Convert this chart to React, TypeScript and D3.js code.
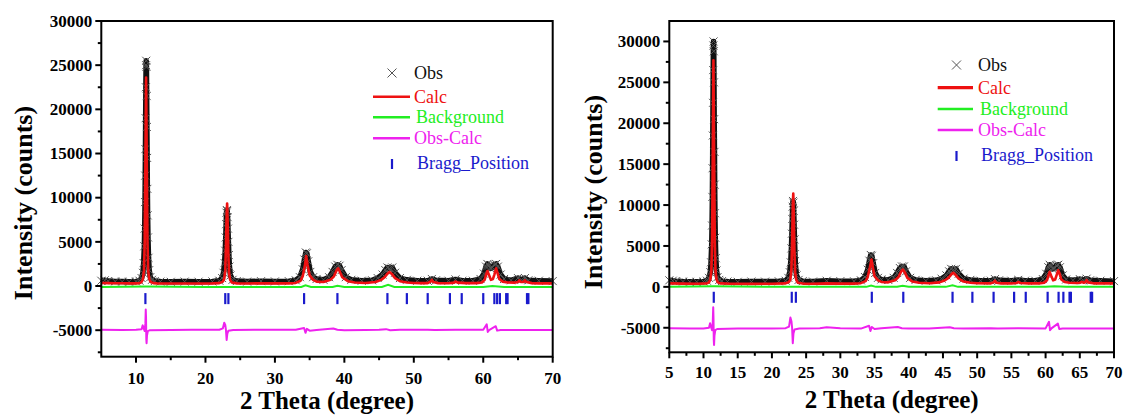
import React from 'react';
import * as d3 from 'd3';

type P = [number, number];

// ---------- Left panel data ----------
const obsL: P[] = [
  [5, 600], [5.5, 650], [6, 560], [7, 520], [8, 500], [9, 490], [10, 520], [10.5, 600], [10.8, 900], [11.0, 1500],
  [11.1, 2600], [11.2, 4500], [11.25, 6500], [11.3, 9500], [11.33, 12500], [11.36, 15500], [11.39, 19000], [11.42, 22500],
  [11.45, 25000], [11.47, 25500], [11.5, 24800], [11.53, 21500], [11.56, 18000], [11.6, 14500], [11.63, 11000], [11.67, 8000],
  [11.72, 5500], [11.8, 3200], [11.9, 1800], [12.05, 1000], [12.3, 700], [12.7, 560], [13.5, 500], [15, 480], [17, 500],
  [19, 490], [21, 520], [22, 600], [22.4, 900], [22.6, 1500], [22.75, 2600], [22.85, 4000], [22.92, 5500], [22.98, 7000],
  [23.03, 8300], [23.08, 8600], [23.13, 8500], [23.18, 7800], [23.24, 6500], [23.3, 5000], [23.37, 3500], [23.45, 2200],
  [23.6, 1200], [23.9, 700], [24.5, 560], [26, 500], [28, 550], [30, 520], [32, 550], [33, 650], [33.6, 1000], [34.0, 1900],
  [34.25, 3000], [34.45, 3800], [34.6, 3700], [34.8, 2800], [35.1, 1600], [35.5, 1000], [36, 800], [37, 700], [37.8, 1000],
  [38.3, 1600], [38.7, 2200], [39.0, 2400], [39.3, 2300], [39.6, 1800], [40.2, 1000], [41, 700], [42.5, 600], [44, 650],
  [44.8, 900], [45.5, 1300], [45.9, 1800], [46.2, 2100], [46.5, 2000], [46.9, 2100], [47.3, 1500], [48, 900], [49, 700],
  [50.5, 600], [52, 600], [52.6, 800], [53.2, 650], [55, 600], [56, 750], [57, 600], [58.5, 600], [59.6, 800], [60.1, 1400],
  [60.4, 2200], [60.6, 2500], [60.8, 2300], [61.0, 2000], [61.3, 2100], [61.6, 2400], [61.85, 2500], [62.1, 2200],
  [62.5, 1300], [63, 800], [64, 650], [65, 900], [65.5, 700], [66, 900], [66.5, 650], [68, 600], [70, 560],
];

const calcL: P[] = [
  [5, 350], [6, 330], [7, 320], [8, 310], [9, 300], [10, 300], [10.5, 320], [10.8, 450], [11.0, 800], [11.15, 1800],
  [11.25, 5000], [11.35, 14000], [11.45, 23600], [11.55, 14000], [11.65, 5000], [11.75, 1800], [11.9, 800], [12.1, 450],
  [12.5, 330], [13, 300], [15, 290], [17, 290], [19, 290], [21, 300], [22, 330], [22.5, 500], [22.7, 800], [22.85, 1800],
  [22.95, 4500], [23.05, 8000], [23.12, 9350], [23.2, 7000], [23.3, 3500], [23.4, 1500], [23.55, 700], [23.8, 400],
  [24.5, 300], [26, 290], [28, 300], [30, 300], [32, 300], [33, 350], [33.7, 600], [34.0, 1100], [34.3, 2200], [34.5, 3400],
  [34.7, 2400], [35.0, 1200], [35.5, 700], [36, 500], [37, 450], [38, 700], [38.5, 1100], [38.9, 1800], [39.1, 2000],
  [39.3, 1700], [39.7, 1000], [40.5, 550], [41.5, 400], [43, 350], [44.5, 450], [45.3, 700], [45.8, 1000], [46.2, 1400],
  [46.5, 1600], [46.8, 1400], [47.3, 900], [48, 550], [49, 400], [50, 350], [51, 330], [52, 330], [52.4, 500], [52.6, 700],
  [52.8, 450], [53.5, 330], [55, 320], [55.8, 380], [56, 500], [56.3, 380], [57.5, 330], [59, 330], [59.8, 400], [60.2, 700],
  [60.45, 1400], [60.6, 1700], [60.8, 1300], [61.1, 700], [61.4, 800], [61.6, 1300], [61.85, 2000], [62.05, 1500],
  [62.3, 800], [62.8, 500], [63.5, 400], [64.5, 380], [65.0, 450], [65.2, 650], [65.4, 450], [65.8, 450], [66.0, 650],
  [66.2, 450], [67, 330], [68, 300], [70, 300],
];

const bgL: P[] = [
  [5, -100], [11.45, -50], [20, -100], [33.8, -100], [34.4, 80], [35.2, -100], [38.3, -100], [39, 40], [40, -100],
  [45.4, -100], [46.3, 150], [47.2, -100], [60, -100], [61.3, 0], [63, -100], [70, -100],
];

const diffL: P[] = [
  [5, -4950], [8, -4980], [10, -4960], [10.8, -4900], [10.96, -4450], [11.1, -4800], [11.25, -5100], [11.35, -4200],
  [11.4, -2650], [11.44, -3500], [11.48, -6000], [11.52, -6480], [11.58, -5600], [11.7, -5100], [12, -5000], [15, -4980],
  [18, -4950], [20, -4960], [22, -4950], [22.5, -4800], [22.7, -4150], [22.85, -4400], [22.95, -5000], [23.05, -6100],
  [23.15, -5400], [23.3, -5050], [24, -4980], [27, -4960], [30, -4950], [33, -4950], [34.2, -4750], [34.4, -5300],
  [34.6, -4850], [35, -5050], [36, -4980], [38.4, -4800], [39, -4950], [40, -5000], [43, -4980], [45, -4950], [46, -4880],
  [46.6, -5000], [48, -4960], [52, -4940], [53, -4980], [56, -4950], [60, -4960], [60.5, -4330], [60.65, -5200],
  [60.9, -4950], [61.8, -4550], [62, -5050], [62.5, -4980], [65, -4970], [70, -4980],
];

const braggL: number[] = [11.35, 22.85, 23.3, 34.2, 39.0, 46.2, 49.0, 52.0, 55.2, 56.9, 60.0, 61.6, 62.0, 62.4, 63.3, 63.5, 66.3, 66.5];

// ---------- Right panel data ----------
const obsR: P[] = [
  [5, 800], [5.5, 750], [6, 700], [7, 650], [8, 620], [9, 620], [10, 650], [10.5, 750], [10.8, 1100], [11.0, 1800],
  [11.1, 3000], [11.2, 5200], [11.25, 7500], [11.3, 11000], [11.33, 14500], [11.36, 18500], [11.39, 22500], [11.42, 26500],
  [11.45, 29500], [11.47, 30000], [11.5, 28800], [11.53, 25000], [11.56, 20500], [11.6, 16500], [11.63, 12500], [11.67, 9000],
  [11.72, 6000], [11.8, 3500], [11.9, 2000], [12.05, 1200], [12.3, 850], [12.7, 700], [13.5, 650], [15, 620], [17, 650],
  [19, 640], [21, 680], [22, 750], [22.4, 1100], [22.6, 1800], [22.75, 3000], [22.85, 4700], [22.92, 6500], [22.98, 8300],
  [23.03, 9800], [23.08, 10500], [23.13, 10300], [23.18, 9300], [23.24, 7600], [23.3, 5800], [23.37, 4000], [23.45, 2500],
  [23.6, 1400], [23.9, 850], [24.5, 700], [26, 650], [28, 750], [30, 700], [32, 680], [33, 800], [33.6, 1200], [34.0, 2100],
  [34.25, 3200], [34.45, 3900], [34.6, 3800], [34.8, 2900], [35.1, 1700], [35.5, 1100], [36, 900], [37, 850], [37.8, 1100],
  [38.3, 1700], [38.7, 2300], [39.0, 2500], [39.3, 2500], [39.6, 1900], [40.2, 1100], [41, 850], [42.5, 750], [44, 800],
  [44.8, 1000], [45.5, 1400], [45.9, 1900], [46.2, 2200], [46.5, 2100], [46.9, 2200], [47.3, 1600], [48, 1000], [49, 850],
  [50.5, 750], [52, 750], [52.6, 950], [53.2, 800], [55, 750], [56, 850], [57, 750], [58.5, 750], [59.6, 950], [60.1, 1600],
  [60.4, 2400], [60.6, 2700], [60.8, 2500], [61.0, 2200], [61.3, 2300], [61.6, 2600], [61.85, 2700], [62.1, 2400],
  [62.5, 1400], [63, 900], [64, 800], [65, 950], [65.5, 800], [66, 1000], [66.5, 800], [68, 750], [70, 700],
];

const calcR: P[] = [
  [5, 420], [7, 400], [9, 380], [10.5, 420], [10.8, 550], [11.0, 900], [11.15, 2000], [11.25, 5500], [11.35, 16000],
  [11.45, 27700], [11.55, 16000], [11.65, 5500], [11.75, 2000], [11.9, 900], [12.1, 550], [12.5, 420], [14, 380], [17, 370],
  [20, 380], [22, 420], [22.5, 600], [22.7, 900], [22.85, 2200], [22.95, 5500], [23.05, 10000], [23.12, 11400], [23.2, 8500],
  [23.3, 4000], [23.4, 1800], [23.55, 850], [23.8, 500], [24.5, 400], [26, 380], [28, 420], [30, 400], [32, 400], [33, 450],
  [33.7, 700], [34.0, 1200], [34.3, 2300], [34.55, 3340], [34.75, 2400], [35.0, 1300], [35.5, 800], [36, 600], [37, 550],
  [38, 800], [38.5, 1200], [38.9, 1900], [39.15, 2120], [39.4, 1800], [39.8, 1100], [40.5, 650], [41.5, 500], [43, 450],
  [44.5, 550], [45.3, 800], [45.8, 1100], [46.2, 1500], [46.5, 1710], [46.8, 1500], [47.3, 1000], [48, 650], [49, 500],
  [50, 450], [52, 430], [52.4, 550], [52.6, 750], [52.8, 500], [53.5, 430], [55, 420], [55.8, 470], [56, 600], [56.3, 470],
  [57.5, 430], [59, 430], [59.8, 500], [60.2, 800], [60.45, 1500], [60.6, 1830], [60.8, 1400], [61.1, 800], [61.4, 900],
  [61.6, 1400], [61.85, 2040], [62.05, 1600], [62.3, 900], [62.8, 600], [63.5, 500], [64.5, 470], [65.0, 500], [65.3, 600],
  [65.6, 500], [65.8, 550], [66.0, 820], [66.2, 550], [67, 430], [68, 420], [70, 420],
];

const bgR: P[] = [
  [5, 0], [11.45, 60], [20, 0], [33.8, 0], [34.5, 150], [35.2, 0], [38.3, 0], [39.1, 120], [40, 0],
  [45.4, 0], [46.4, 200], [47.2, 0], [60, 0], [61.3, 80], [63, 0], [70, 0],
];

const diffR: P[] = [
  [5, -5050], [8, -5100], [10, -5080], [10.8, -5000], [10.96, -4450], [11.1, -4900], [11.25, -5300], [11.35, -4400],
  [11.42, -2500], [11.46, -3800], [11.5, -6500], [11.54, -7100], [11.6, -6000], [11.72, -5300], [12, -5150], [15, -5100],
  [18, -5080], [20, -5100], [22, -5050], [22.5, -4850], [22.7, -3750], [22.85, -4200], [22.95, -5000], [23.05, -6900],
  [23.15, -5700], [23.3, -5200], [24, -5100], [27, -5050], [28, -4950], [30, -5050], [33, -5100], [34.2, -4750],
  [34.4, -5400], [34.6, -4900], [35, -5150], [36, -5050], [38.4, -4900], [39, -5050], [40, -5100], [43, -5080],
  [46, -4950], [46.6, -5050], [48, -5080], [52, -5050], [53, -5100], [56, -5060], [60, -5080], [60.5, -4270],
  [60.65, -5300], [60.9, -5050], [61.8, -4500], [62, -5150], [62.5, -5080], [65, -5090], [70, -5090],
];

const braggR: number[] = [11.5, 22.9, 23.5, 34.6, 39.2, 46.4, 49.3, 52.4, 55.4, 57.1, 60.3, 61.9, 62.6, 63.5, 63.7, 66.6, 66.8];

// ---------- Ticks ----------
const xMajorL = [10, 20, 30, 40, 50, 60, 70];
const xMinorL = [15, 25, 35, 45, 55, 65];
const xMajorR = [5, 10, 15, 20, 25, 30, 35, 40, 45, 50, 55, 60, 65, 70];
const xMinorR = [7.5, 12.5, 17.5, 22.5, 27.5, 32.5, 37.5, 42.5, 47.5, 52.5, 57.5, 62.5, 67.5];
const yMajor = [-5000, 0, 5000, 10000, 15000, 20000, 25000, 30000];
const yMinor = [-7500, -2500, 2500, 7500, 12500, 17500, 22500, 27500];

const legendLabels = ['Obs', 'Calc', 'Background', 'Obs-Calc', 'Bragg_Position'];

const FONT = "'Liberation Serif', 'Times New Roman', serif";
const RED = '#ee1111';
const GREEN = '#22ee22';
const MAG = '#ee22ee';
const BLUE = '#1a1acc';

interface PanelProps {
  left: number; right: number; top: number; bottom: number;
  yMax: number;
  obs: P[]; calc: P[]; bg: P[]; diff: P[]; bragg: number[];
  braggY: [number, number];
  xMajor: number[]; xMinor: number[];
  leg: { sx: number; lx0: number; lx1: number; tx: number; ys: number[]; calcW: number };
  yLabelX: number; yLabelY: number; xLabelY: number; xTickY: number;
}

function Panel(p: PanelProps) {
  const x = d3.scaleLinear().domain([5, 70]).range([p.left, p.right]);
  const y = d3.scaleLinear().domain([-8000, p.yMax]).range([p.bottom, p.top]);
  const line = d3.line<P>().x(d => x(d[0])).y(d => y(d[1]));
  const yTicks = yMajor.filter(v => v <= p.yMax);
  const yMin = yMinor.filter(v => v <= p.yMax);
  const cx = (p.left + p.right) / 2;
  const L = p.leg;
  return (
    <g>
      {/* observed */}
      <path d={line(p.obs) || ''} fill="none" stroke="#111" strokeWidth={5.5} strokeLinejoin="round" />
      {p.obs.map((d, i) => {
        const px = x(d[0]), py = y(d[1]), s = 4;
        return <path key={i} d={`M${px - s},${py - s}L${px + s},${py + s}M${px - s},${py + s}L${px + s},${py - s}`} stroke="#555" strokeWidth={1} />;
      })}
      <path d={line(p.calc) || ''} fill="none" stroke={RED} strokeWidth={2.6} strokeLinejoin="round" />
      <path d={line(p.bg) || ''} fill="none" stroke={GREEN} strokeWidth={2} />
      <path d={line(p.diff) || ''} fill="none" stroke={MAG} strokeWidth={2} strokeLinejoin="round" />
      {p.bragg.map((b, i) => (
        <line key={i} x1={x(b)} x2={x(b)} y1={y(p.braggY[0])} y2={y(p.braggY[1])} stroke={BLUE} strokeWidth={2.2} />
      ))}
      {/* frame */}
      <rect x={p.left} y={p.top} width={p.right - p.left} height={p.bottom - p.top} fill="none" stroke="#000" strokeWidth={2} />
      {/* y ticks */}
      {yTicks.map(v => (
        <g key={'y' + v}>
          <line x1={p.left - 6} x2={p.left} y1={y(v)} y2={y(v)} stroke="#000" strokeWidth={2} />
          <text x={p.left - 9} y={y(v)} dy="0.34em" textAnchor="end" fontFamily={FONT} fontWeight="bold" fontSize={17}>{v}</text>
        </g>
      ))}
      {yMin.map(v => (
        <line key={'ym' + v} x1={p.left - 3.5} x2={p.left} y1={y(v)} y2={y(v)} stroke="#000" strokeWidth={2} />
      ))}
      {/* x ticks */}
      {p.xMajor.map(v => (
        <g key={'x' + v}>
          <line x1={x(v)} x2={x(v)} y1={p.bottom} y2={p.bottom + 6} stroke="#000" strokeWidth={2} />
          <text x={x(v)} y={p.xTickY} textAnchor="middle" fontFamily={FONT} fontWeight="bold" fontSize={17}>{v}</text>
        </g>
      ))}
      {p.xMinor.map(v => (
        <line key={'xm' + v} x1={x(v)} x2={x(v)} y1={p.bottom} y2={p.bottom + 3.5} stroke="#000" strokeWidth={2} />
      ))}
      {/* axis titles */}
      <text x={cx} y={p.xLabelY} textAnchor="middle" fontFamily={FONT} fontWeight="bold" fontSize={25}>2 Theta (degree)</text>
      <text transform={`translate(${p.yLabelX},${p.yLabelY}) rotate(-90)`} textAnchor="middle" fontFamily={FONT} fontWeight="bold" fontSize={26}>Intensity (counts)</text>
      {/* legend */}
      <path d={`M${L.sx - 4.5},${L.ys[0] - 4.5}L${L.sx + 4.5},${L.ys[0] + 4.5}M${L.sx - 4.5},${L.ys[0] + 4.5}L${L.sx + 4.5},${L.ys[0] - 4.5}`} stroke="#555" strokeWidth={1} />
      <line x1={L.lx0} x2={L.lx1} y1={L.ys[1]} y2={L.ys[1]} stroke={RED} strokeWidth={L.calcW} />
      <line x1={L.lx0} x2={L.lx1} y1={L.ys[2]} y2={L.ys[2]} stroke={GREEN} strokeWidth={2.4} />
      <line x1={L.lx0} x2={L.lx1} y1={L.ys[3]} y2={L.ys[3]} stroke={MAG} strokeWidth={2.4} />
      <line x1={L.sx} x2={L.sx} y1={L.ys[4] - 4} y2={L.ys[4] + 6} stroke={BLUE} strokeWidth={2.2} />
      {legendLabels.map((t, i) => (
        <text key={t} x={L.tx + (i === 2 || i === 4 ? 2 : 0) + (i === 4 ? 1 : 0)} y={L.ys[i]} dy="0.33em" fontFamily={FONT} fontSize={18}
          fill={[ '#111', RED, GREEN, MAG, BLUE ][i]}>{t}</text>
      ))}
    </g>
  );
}

export default function App() {
  return (
    <svg width={1127} height={417} style={{ position: 'absolute', left: 0, top: 0, background: '#fff' }}>
      <Panel left={101.3} right={552.7} top={21} bottom={356.7} yMax={30000}
        obs={obsL} calc={calcL} bg={bgL} diff={diffL} bragg={braggL} braggY={[-800, -2050]}
        xMajor={xMajorL} xMinor={xMinorL}
        leg={{ sx: 392, lx0: 373, lx1: 410, tx: 414, ys: [73, 96.7, 117.3, 138.3, 163], calcW: 2.6 }}
        yLabelX={32} yLabelY={203} xLabelY={409} xTickY={384} />
      <Panel left={669.3} right={1114} top={21} bottom={352.3} yMax={32500}
        obs={obsR} calc={calcR} bg={bgR} diff={diffR} bragg={braggR} braggY={[-600, -1950]}
        xMajor={xMajorR} xMinor={xMinorR}
        leg={{ sx: 956.5, lx0: 937.7, lx1: 973, tx: 978, ys: [65, 87.7, 109, 130, 155], calcW: 3.2 }}
        yLabelX={602} yLabelY={192} xLabelY={408} xTickY={378} />
    </svg>
  );
}
